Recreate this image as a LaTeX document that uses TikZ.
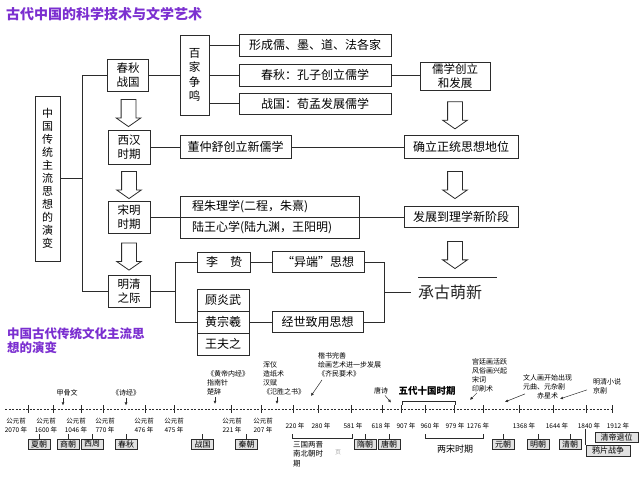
\documentclass[tikz,border=0pt]{standalone}
\usepackage{fontspec}
\setmainfont{Noto Sans CJK SC}
\usetikzlibrary{arrows.meta,positioning,calc,shapes.arrows}
\definecolor{headpurple}{HTML}{7B2FD0}
\definecolor{inkgray}{HTML}{2B2B2B}
\definecolor{eragray}{HTML}{E2E2E2}
\newcommand{\fs}[2]{\fontsize{#1}{#2}\selectfont}

\begin{document}
\begin{tikzpicture}[x=1pt,y=-1pt,
  font=\fs{12}{14},
  box/.style={draw=inkgray,line width=0.8pt,inner sep=0pt,align=center},
  vbox/.style={box,font=\fs{11.5}{14.5}},
  link/.style={draw=inkgray,line width=0.8pt},
  hollow/.style={draw=inkgray,line width=0.8pt,single arrow,shape border rotate=270,
    minimum height=27pt,single arrow head extend=5pt,
    single arrow tip angle=110,inner sep=7pt},
  era/.style={draw=inkgray,fill=eragray,line width=0.6pt,inner sep=0pt,minimum height=10pt,minimum width=22pt,font=\fs{8}{9}},
  yr/.style={inner sep=0pt,align=center,font=\fs{6.5}{9}},
  note/.style={inner sep=0pt,align=left,anchor=north west,font=\fs{7}{9}},
  ptr/.style={draw=inkgray,line width=0.5pt,-{Latex[length=3pt,width=3pt]}},
  tick/.style={draw=inkgray,line width=0.6pt}
]
\useasboundingbox (0,0) rectangle (640,480);

% upper chart
\node[anchor=west,text=headpurple,font=\bfseries\fs{14}{16},inner sep=0pt] (title) at (6,14) {古代中国的科学技术与文学艺术};

\node[vbox,minimum width=25pt,minimum height=165pt,font=\fs{11}{13}] (zy) at (47.5,178.5) {中\\国\\传\\统\\主\\流\\思\\想\\的\\演\\变};
\node[box,minimum width=41pt,minimum height=32pt,font=\fs{11.5}{13.5}] (cq) at (128,75) {春秋\\战国};
\node[vbox,minimum width=29pt,minimum height=80pt] (bj) at (194.5,75) {百\\家\\争\\鸣};
\node[box,minimum width=152pt,minimum height=22pt] (xc) at (315,45) {形成儒、墨、道、法各家};
\node[box,minimum width=152pt,minimum height=22pt] (kz) at (315,75) {春秋：孔子创立儒学};
\node[box,minimum width=152pt,minimum height=21pt] (xm) at (315,103.5) {战国：荀孟发展儒学};
\node[box,minimum width=70pt,minimum height=28pt,font=\fs{11.5}{13.5}] (rx) at (455,76) {儒学创立\\和发展};

\node[box,minimum width=42pt,minimum height=34pt,font=\fs{11.5}{13.5}] (xh) at (129,147) {西汉\\时期};
\node[box,minimum width=111pt,minimum height=23pt] (dz) at (235.5,147) {董仲舒创立新儒学};
\node[box,minimum width=114pt,minimum height=23pt] (ql) at (461,147) {确立正统思想地位};

\node[box,minimum width=42pt,minimum height=32pt,font=\fs{11.5}{13.5}] (sm) at (129,217) {宋明\\时期};
\node[box,text width=155pt,inner xsep=12pt,minimum height=21pt,align=left] (cz) at (269.5,206.5) {程朱理学(二程，朱熹)};
\node[box,text width=155pt,inner xsep=12pt,minimum height=21pt,align=left] (lw) at (269.5,227.5) {陆王心学(陆九渊，王阳明)};
\node[box,minimum width=114pt,minimum height=21pt] (fz) at (461,217) {发展到理学新阶段};

\node[box,minimum width=42pt,minimum height=32pt,font=\fs{11.5}{13.5}] (mq) at (129,291) {明清\\之际};
\node[box,minimum width=53pt,minimum height=20pt] (lz) at (224,262) {李\quad 贽};
\node[box,minimum width=92pt,minimum height=21pt] (yd) at (318,262) {“异端”思想};
\node[box,minimum width=52pt,minimum height=22pt] (gy) at (223,300) {顾炎武};
\node[box,minimum width=52pt,minimum height=22pt] (hz) at (223,322) {黄宗羲};
\node[box,minimum width=52pt,minimum height=22pt] (wf) at (223,344) {王夫之};
\node[box,minimum width=91pt,minimum height=21pt] (js) at (317.5,322) {经世致用思想};
\node[anchor=west,inner sep=0pt,font=\fs{16}{18},text=black!85] (cg) at (418,292) {承古萌新};

% connectors
\coordinate (lj) at ($(zy.east)+(22,0)$);
\draw[link] (zy.east) -- (lj);
\draw[link] (cq.west) -| (lj) |- (mq.west);
\draw[link] (cq.east) -- (bj.west);
\draw[link] (bj.east |- xc) -- (xc.west);
\draw[link] (bj.east |- kz) -- (kz.west);
\draw[link] (bj.east |- xm) -- (xm.west);
\draw[link] (kz.east) -- (kz.east -| rx.west);
\draw[link] (xh.east) -- (dz.west);
\draw[link] (dz.east) -- (ql.west);
\draw[link] (sm.east) -- (fz.west);
\coordinate (mj) at ($(mq.east)+(25,0)$);
\draw[link] (mq.east) -- (mj);
\draw[link] (lz.west) -| (mj) |- (hz.west);
\draw[link] (lz.east) -- (yd.west);
\draw[link] (hz.east) -- (js.west);
\coordinate (rj) at ($(yd.east)+(20,30)$);
\draw[link] (yd.east) -| (rj) |- (js.east);
\draw[link] (rj) -- ($(cg.west)+(-7,0)$);
\coordinate (cgl) at ($(cg.west)+(0,-15)$);
\draw[link,line width=0.6pt] (cgl) -- ++(79,0);

% hollow arrows
\node[hollow] (ha1) at ($(cq.south)!.5!(xh.north)$) {};
\node[hollow] (ha2) at ($(xh.south)!.5!(sm.north)$) {};
\node[hollow] (ha3) at ($(sm.south)!.5!(mq.north)$) {};
\node[hollow] (hb1) at ($(rx.south)!.5!(rx.south |- ql.north)$) {};
\node[hollow] (hb2) at ($(rx.south |- ql.south)!.5!(rx.south |- fz.north)$) {};
\node[hollow] (hb3) at ($(rx.south |- fz.south)!.5!(rx.south |- cgl)$) {};

% lower chart
\node[anchor=north west,text=headpurple,font=\bfseries\fs{12.5}{14.5},align=left,inner sep=0pt] (sub) at (7,327) {中国古代传统文化主流思\\想的演变};

\coordinate (ax0) at (5,409);
\coordinate (ax1) at (613,409);
\draw[tick,dash pattern=on 2pt off 1.5pt] (ax0) -- (ax1);
\foreach \x in {28,53,81,103,145,174,231,261,293,318,351,382,401,425,454,483,519,553,586,612}
  \draw[tick] (\x,405) -- (\x,413);

% years
\node[yr] (y2070) at (16,426) {公元前\\2070 年};
\node[yr] (y1600) at (46,426) {公元前\\1600 年};
\node[yr] (y1046) at (76,426) {公元前\\1046 年};
\node[yr] (y770) at (105,426) {公元前\\770 年};
\node[yr] (y476) at (144,426) {公元前\\476 年};
\node[yr] (y475) at (174,426) {公元前\\475 年};
\node[yr] (y221) at (232,426) {公元前\\221 年};
\node[yr] (y207) at (263,426) {公元前\\207 年};
\node[yr] (y220) at (295,426) {220 年};
\node[yr] (y280) at (321,426) {280 年};
\node[yr] (y581) at (353,426) {581 年};
\node[yr] (y618) at (381,426) {618 年};
\node[yr] (y907) at (406,426) {907 年};
\node[yr] (y960) at (430,426) {960 年};
\node[yr] (y979) at (455,426) {979 年};
\node[yr] (y1276) at (478,426) {1276 年};
\node[yr] (y1368) at (524,426) {1368 年};
\node[yr] (y1644) at (557,426) {1644 年};
\node[yr] (y1840) at (589,426) {1840 年};
\node[yr] (y1912) at (618,426) {1912 年};

% eras
\node[era] (xia) at (39,444) {夏朝};
\node[era] (shang) at (68,444) {商朝};
\node[era] (xizhou) at (92,444) {西周};
\node[era] (chunqiu) at (126,444) {春秋};
\node[era] (zhanguo) at (202.5,444) {战国};
\node[era] (qin) at (246.5,444) {秦朝};
\node[era] (sui) at (365,444) {隋朝};
\node[era] (tang) at (389,444) {唐朝};
\node[era] (yuan) at (503,444) {元朝};
\node[era] (ming) at (538,444) {明朝};
\node[era] (qing) at (570,444) {清朝};
\node[era,minimum width=43pt] (qdtw) at (616.5,437.5) {清帝退位};
\node[era,minimum width=44pt,minimum height=11pt] (ypzz) at (608,450.5) {鸦片战争};
\foreach \n in {xia,shang,xizhou,chunqiu,zhanguo,qin,sui,tang,yuan,ming,qing}
  \draw[tick] (\n.north) -- ++(0,-5);
\draw[tick] (ypzz.north west) -- (ypzz.north west |- y1840.south);

% brackets
\coordinate (sgL) at (292,438);
\coordinate (sgR) at (352,438);
\draw[tick] ($(sgL)+(0,-4)$) -- (sgL) -- (sgR) -- ++(0,-4);
\node[note,font=\fs{7.5}{9.5}] (sgt) at (293,441) {三国两晋\\南北朝时\\期};
\node[text=black!35,font=\fs{6}{7},inner sep=0pt] (pg) at (338,452) {页};
\coordinate (lsL) at (425,438);
\coordinate (lsR) at (483,438);
\draw[tick] ($(lsL)+(0,-4)$) -- (lsL) -- (lsR) -- ++(0,-4);
\node[inner sep=0pt,font=\fs{9}{10}] (lst) at (455,449) {两宋时期};
\node[inner sep=0pt,font=\bfseries\fs{9.5}{11}] (wdt) at (427,391) {五代十国时期};
\coordinate (wdL) at (402,401);
\coordinate (wdR) at (455,401);
\draw[tick] ($(wdL)+(0,4)$) -- (wdL) -- (wdR) -- ++(0,4);

% notes above the axis
\node[inner sep=0pt,font=\fs{7}{9}] (jgw) at (67,393) {甲骨文};
\node[inner sep=0pt,font=\fs{7}{9}] (sj) at (126,393) {《诗经》};
\node[note] (hdnj) at (207,370) {《黄帝内经》\\指南针\\楚辞};
\node[note] (hy) at (263,361) {浑仪\\造纸术\\汉赋\\《氾胜之书》};
\node[note] (ks) at (318,352) {楷书完善\\绘画艺术进一步发展\\《齐民要术》};
\node[inner sep=0pt,font=\fs{7}{9}] (tsh) at (381,391) {唐诗};
\node[note] (gt) at (472,358) {宫廷画活跃\\风俗画兴起\\宋词\\印刷术};
\node[note] (wr) at (523,374) {文人画开始出现\\元曲、元杂剧\\\hspace{14pt}赤星术};
\node[note] (mx) at (593,378) {明清小说\\京剧};

\draw[ptr] ($(jgw.south)+(-4,2)$) -- ++(0,7);
\draw[ptr] ($(sj.south)+(0,2)$) -- ++(0,7);
\draw[ptr] ($(hdnj.south west)+(8,2)$) -- ++(0,7);
\draw[ptr] ($(hy.south west)+(14,2)$) -- ++(0,7);
\draw[ptr] ($(ks.south west)+(4,3)$) -- ++(-11,16);
\draw[ptr] ($(tsh.south)+(4,1)$) -- ++(6,7);
\draw[ptr] ($(gt.south west)+(5,1)$) -- ++(-7,7);
\draw[ptr] ($(wr.south west)+(2,-5)$) -- ++(-20,8);
\draw[ptr] ($(mx.south west)+(-6,-4)$) -- ++(-27,9);
\end{tikzpicture}
\end{document}
